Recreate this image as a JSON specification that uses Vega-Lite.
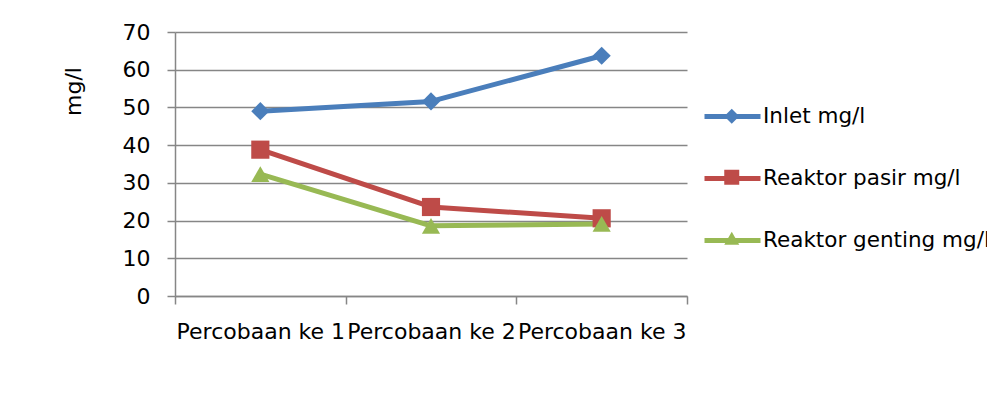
{
  "$schema": "https://vega.github.io/schema/vega-lite/v6.json",
  "width": 512,
  "height": 264,
  "autosize": {"type": "none"},
  "padding": {"left": 175, "top": 32, "right": 300, "bottom": 110},
  "background": "white",
  "config": {
    "view": {"stroke": null},
    "font": "DejaVu Sans",
    "axis": {"labelFont": "DejaVu Sans", "titleFont": "DejaVu Sans"},
    "legend": {"labelFont": "DejaVu Sans"}
  },
  "data": {
    "values": [
      {"trial": "Percobaan ke 1", "series": "Inlet mg/l", "value": 49.0},
      {"trial": "Percobaan ke 2", "series": "Inlet mg/l", "value": 51.6},
      {"trial": "Percobaan ke 3", "series": "Inlet mg/l", "value": 63.7},
      {"trial": "Percobaan ke 1", "series": "Reaktor pasir mg/l", "value": 38.8},
      {"trial": "Percobaan ke 2", "series": "Reaktor pasir mg/l", "value": 23.6},
      {"trial": "Percobaan ke 3", "series": "Reaktor pasir mg/l", "value": 20.6},
      {"trial": "Percobaan ke 1", "series": "Reaktor genting mg/l", "value": 32.3},
      {"trial": "Percobaan ke 2", "series": "Reaktor genting mg/l", "value": 18.6},
      {"trial": "Percobaan ke 3", "series": "Reaktor genting mg/l", "value": 19.1}
    ]
  },
  "encoding": {
    "x": {
      "field": "trial",
      "type": "nominal",
      "sort": null,
      "scale": {"paddingInner": 0, "paddingOuter": 0},
      "axis": {
        "title": null,
        "labelAngle": 0,
        "labelFontSize": 22,
        "labelColor": "#000000",
        "labelPadding": 17,
        "tickBand": "extent",
        "tickSize": 8,
        "tickColor": "#868686",
        "tickWidth": 1.5,
        "domainColor": "#868686",
        "domainWidth": 1.5,
        "grid": false
      }
    },
    "y": {
      "field": "value",
      "type": "quantitative",
      "scale": {"domain": [0, 70], "nice": false},
      "axis": {
        "title": "mg/l",
        "titleFontSize": 22,
        "titleFontWeight": "normal",
        "titleColor": "#000000",
        "titleAngle": -90,
        "titleX": -102,
        "titleY": 59,
        "titleAlign": "center",
        "titleBaseline": "middle",
        "values": [0, 10, 20, 30, 40, 50, 60, 70],
        "labelFontSize": 22,
        "labelColor": "#000000",
        "labelPadding": 17,
        "tickSize": 8,
        "tickColor": "#868686",
        "tickWidth": 1.5,
        "domainColor": "#868686",
        "domainWidth": 1.5,
        "grid": true,
        "gridColor": "#868686",
        "gridWidth": 1.5
      }
    }
  },
  "layer": [
    {
      "mark": {"type": "line", "strokeWidth": 5, "strokeJoin": "round", "strokeCap": "round"},
      "encoding": {
        "color": {
          "field": "series",
          "type": "nominal",
          "sort": ["Inlet mg/l", "Reaktor pasir mg/l", "Reaktor genting mg/l"],
          "scale": {"range": ["#4a7ebb", "#be4b48", "#98b954"]},
          "legend": {
            "orient": "none",
            "legendX": 527,
            "legendY": 54,
            "title": null,
            "symbolType": "stroke",
            "symbolSize": 3136,
            "symbolStrokeWidth": 5,
            "labelFontSize": 21.5,
            "labelColor": "#000000",
            "labelOffset": 0,
            "labelLimit": 400,
            "rowPadding": 21
          }
        }
      }
    },
    {
      "mark": {"type": "point", "filled": true, "opacity": 1, "size": 330},
      "encoding": {
        "fill": {
          "field": "series",
          "type": "nominal",
          "scale": {
            "domain": ["Inlet mg/l", "Reaktor pasir mg/l", "Reaktor genting mg/l"],
            "range": ["#4a7ebb", "#be4b48", "#98b954"]
          },
          "legend": {
            "orient": "none",
            "legendX": 546,
            "legendY": 73.5,
            "title": null,
            "symbolSize": 225,
            "symbolStrokeWidth": 0,
            "labelFontSize": 21.5,
            "labelExpr": "''",
            "labelLimit": 400,
            "rowPadding": 38
          }
        },
        "shape": {
          "field": "series",
          "type": "nominal",
          "scale": {
            "domain": ["Inlet mg/l", "Reaktor pasir mg/l", "Reaktor genting mg/l"],
            "range": ["diamond", "square", "triangle-up"]
          },
          "legend": {
            "orient": "none",
            "legendX": 546,
            "legendY": 73.5,
            "title": null,
            "symbolSize": 225,
            "symbolStrokeWidth": 0,
            "labelFontSize": 21.5,
            "labelExpr": "''",
            "labelLimit": 400,
            "rowPadding": 38
          }
        }
      }
    }
  ]
}
